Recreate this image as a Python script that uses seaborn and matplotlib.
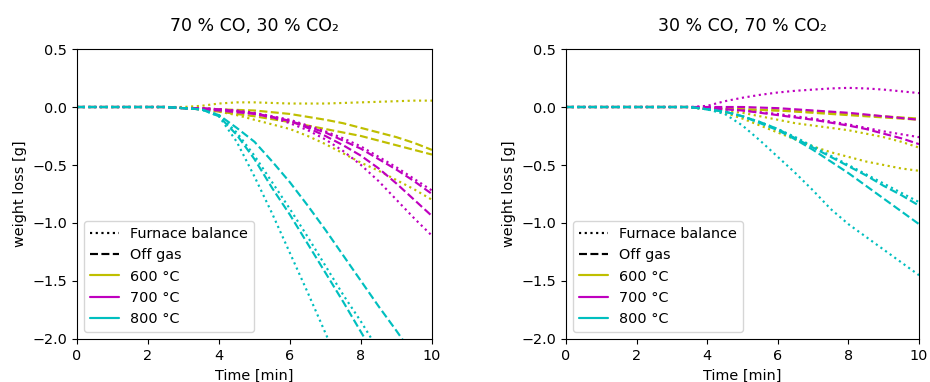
import matplotlib
matplotlib.use("Agg")
import matplotlib.pyplot as plt
from matplotlib.lines import Line2D
import seaborn as sns
import pandas as pd

time_min = [0, 0.5, 1, 1.5, 2, 2.5, 3, 3.5, 4, 4.5, 5, 5.5, 6, 6.5, 7, 7.5, 8, 8.5, 9, 9.5, 10]
panel_titles = ["70 % CO, 30 % CO\u2082", "30 % CO, 70 % CO\u2082"]
temperatures = ["600 °C", "700 °C", "800 °C"]
methods = ["Furnace balance", "Off gas"]

Z = [0, 0, 0, 0, 0, 0]  # 0 - 2.5 min: no weight change

# ---- 70 % CO, 30 % CO2 ---- (values from 3 min to 10 min, 0.5 min steps)
p1_600_fb_a = Z + [0.0, 0.01, 0.03, 0.04, 0.04, 0.035, 0.03, 0.03, 0.03, 0.035, 0.04, 0.045, 0.05, 0.055, 0.055]
p1_600_fb_b = Z + [-0.01, -0.02, -0.04, -0.07, -0.11, -0.15, -0.19, -0.25, -0.32, -0.40, -0.48, -0.55, -0.63, -0.71, -0.80]
p1_600_og_a = Z + [-0.01, -0.01, -0.02, -0.025, -0.03, -0.045, -0.06, -0.085, -0.11, -0.14, -0.18, -0.22, -0.26, -0.31, -0.37]
p1_600_og_b = Z + [-0.01, -0.02, -0.04, -0.06, -0.08, -0.105, -0.13, -0.16, -0.19, -0.22, -0.25, -0.29, -0.33, -0.37, -0.41]
p1_700_fb_a = Z + [-0.01, -0.01, -0.02, -0.035, -0.06, -0.09, -0.14, -0.20, -0.28, -0.38, -0.50, -0.64, -0.80, -0.96, -1.11]
p1_700_fb_b = Z + [-0.01, -0.01, -0.02, -0.03, -0.05, -0.08, -0.11, -0.16, -0.21, -0.27, -0.34, -0.43, -0.52, -0.62, -0.72]
p1_700_og_a = Z + [-0.01, -0.01, -0.02, -0.035, -0.055, -0.085, -0.12, -0.18, -0.25, -0.33, -0.42, -0.53, -0.66, -0.80, -0.94]
p1_700_og_b = Z + [-0.01, -0.02, -0.03, -0.045, -0.06, -0.09, -0.12, -0.17, -0.22, -0.29, -0.36, -0.45, -0.54, -0.64, -0.75]
p1_800_fb_a = Z + [-0.01, -0.02, -0.08, -0.30, -0.60, -0.92, -1.26, -1.60, -1.95, -2.30, -2.65, -3.00, -3.35, -3.70, -4.05]
p1_800_fb_b = Z + [-0.01, -0.02, -0.07, -0.22, -0.42, -0.65, -0.88, -1.12, -1.37, -1.62, -1.85, -2.10, -2.35, -2.60, -2.85]
p1_800_og_a = Z + [-0.01, -0.02, -0.08, -0.24, -0.45, -0.70, -0.93, -1.18, -1.43, -1.68, -1.94, -2.20, -2.46, -2.72, -2.98]
p1_800_og_b = Z + [-0.01, -0.02, -0.07, -0.18, -0.30, -0.47, -0.65, -0.85, -1.06, -1.28, -1.50, -1.72, -1.93, -2.15, -2.36]

# ---- 30 % CO, 70 % CO2 ----
p2_600_fb_a = Z + [0, 0, -0.02, -0.035, -0.05, -0.08, -0.11, -0.14, -0.16, -0.18, -0.20, -0.23, -0.26, -0.30, -0.35]
p2_600_fb_b = Z + [0, 0, -0.02, -0.05, -0.10, -0.16, -0.22, -0.28, -0.34, -0.39, -0.43, -0.47, -0.50, -0.53, -0.55]
p2_600_og_a = Z + [0, 0, -0.01, -0.015, -0.02, -0.025, -0.03, -0.035, -0.04, -0.05, -0.06, -0.07, -0.08, -0.09, -0.10]
p2_600_og_b = Z + [0, 0, -0.01, -0.015, -0.02, -0.025, -0.03, -0.04, -0.05, -0.06, -0.07, -0.08, -0.09, -0.10, -0.11]
p2_700_fb_a = Z + [0, 0, 0.01, 0.05, 0.08, 0.105, 0.125, 0.14, 0.15, 0.16, 0.165, 0.16, 0.15, 0.135, 0.12]
p2_700_fb_b = Z + [0, 0, -0.01, -0.02, -0.03, -0.045, -0.06, -0.08, -0.10, -0.125, -0.15, -0.18, -0.21, -0.235, -0.26]
p2_700_og_a = Z + [0, 0, -0.01, -0.02, -0.03, -0.05, -0.07, -0.09, -0.11, -0.135, -0.16, -0.19, -0.23, -0.27, -0.32]
p2_700_og_b = Z + [0, 0, 0, 0, 0, -0.005, -0.01, -0.02, -0.03, -0.04, -0.05, -0.065, -0.08, -0.095, -0.11]
p2_800_fb_a = Z + [0, 0, -0.02, -0.06, -0.16, -0.29, -0.43, -0.57, -0.72, -0.88, -1.01, -1.12, -1.23, -1.34, -1.45]
p2_800_fb_b = Z + [0, 0, -0.02, -0.04, -0.08, -0.13, -0.19, -0.26, -0.34, -0.42, -0.50, -0.58, -0.66, -0.74, -0.82]
p2_800_og_a = Z + [0, 0, -0.02, -0.04, -0.08, -0.13, -0.19, -0.27, -0.35, -0.43, -0.51, -0.59, -0.68, -0.76, -0.85]
p2_800_og_b = Z + [0, 0, -0.02, -0.04, -0.08, -0.14, -0.20, -0.28, -0.37, -0.47, -0.57, -0.68, -0.79, -0.90, -1.01]

series = [
    (0, "600 °C", "Furnace balance", p1_600_fb_a), (0, "600 °C", "Furnace balance", p1_600_fb_b),
    (0, "600 °C", "Off gas", p1_600_og_a), (0, "600 °C", "Off gas", p1_600_og_b),
    (0, "700 °C", "Furnace balance", p1_700_fb_a), (0, "700 °C", "Furnace balance", p1_700_fb_b),
    (0, "700 °C", "Off gas", p1_700_og_a), (0, "700 °C", "Off gas", p1_700_og_b),
    (0, "800 °C", "Furnace balance", p1_800_fb_a), (0, "800 °C", "Furnace balance", p1_800_fb_b),
    (0, "800 °C", "Off gas", p1_800_og_a), (0, "800 °C", "Off gas", p1_800_og_b),
    (1, "600 °C", "Furnace balance", p2_600_fb_a), (1, "600 °C", "Furnace balance", p2_600_fb_b),
    (1, "600 °C", "Off gas", p2_600_og_a), (1, "600 °C", "Off gas", p2_600_og_b),
    (1, "700 °C", "Furnace balance", p2_700_fb_a), (1, "700 °C", "Furnace balance", p2_700_fb_b),
    (1, "700 °C", "Off gas", p2_700_og_a), (1, "700 °C", "Off gas", p2_700_og_b),
    (1, "800 °C", "Furnace balance", p2_800_fb_a), (1, "800 °C", "Furnace balance", p2_800_fb_b),
    (1, "800 °C", "Off gas", p2_800_og_a), (1, "800 °C", "Off gas", p2_800_og_b),
]

colors = {"600 °C": (0.75, 0.75, 0.0), "700 °C": (0.75, 0.0, 0.75), "800 °C": (0.0, 0.75, 0.75)}
styles = {"Furnace balance": ":", "Off gas": "--"}

sns.set_style("ticks")
plt.rcParams["font.family"] = ["DejaVu Sans"]
for k in ["text.color", "axes.labelcolor", "xtick.color", "ytick.color", "axes.edgecolor"]:
    plt.rcParams[k] = "black"

FS = 10.4
fig = plt.figure(figsize=(9.3, 3.82), dpi=100)
ax1 = fig.add_axes([0.0828, 0.1126, 0.3817, 0.7591])
ax2 = fig.add_axes([0.6086, 0.1126, 0.3796, 0.7591])
axes = [ax1, ax2]

for panel, temp, method, vals in series:
    df = pd.DataFrame({"t": time_min, "w": vals})
    sns.lineplot(data=df, x="t", y="w", ax=axes[panel], color=colors[temp],
                 linestyle=styles[method], linewidth=1.55, legend=False)

handles = [Line2D([], [], color="black", linestyle=":", linewidth=1.55, label=methods[0]),
           Line2D([], [], color="black", linestyle="--", linewidth=1.55, label=methods[1])]
for t in temperatures:
    handles.append(Line2D([], [], color=colors[t], linewidth=1.55, label=t))

for i, ax in enumerate(axes):
    ax.set_xlim(0, 10)
    ax.set_ylim(-2.0, 0.5)
    ax.set_xticks([0, 2, 4, 6, 8, 10])
    ax.set_yticks([-2.0, -1.5, -1.0, -0.5, 0.0, 0.5])
    ax.set_xlabel("Time [min]", fontsize=FS)
    ax.set_ylabel("weight loss [g]", fontsize=FS)
    ax.set_title(panel_titles[i], fontsize=12.5, pad=13)
    ax.tick_params(labelsize=FS, direction="out", length=3.6, width=0.8, color="black")
    for s in ax.spines.values():
        s.set_visible(True)
        s.set_color("black")
        s.set_linewidth(0.8)
    ax.legend(handles=handles, loc="lower left", fontsize=FS, frameon=True)

fig.savefig("out.png", dpi=100)
